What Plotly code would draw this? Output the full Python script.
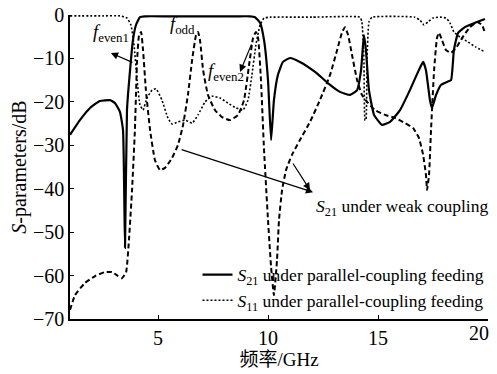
import plotly.graph_objects as go

# ---- data ----
# S21 under parallel-coupling feeding (solid)
f_s21p = [1.0, 1.45, 1.91, 2.36, 2.82, 3.05, 3.27, 3.41, 3.5, 3.59, 3.73, 3.86, 4.0, 4.18, 4.41,
          5.5, 7.0, 8.5, 9.18, 9.41, 9.64, 9.82, 10.0, 10.14, 10.27, 10.45, 10.68, 11.0, 11.45,
          12.14, 12.82, 13.27, 13.73, 14.05, 14.23, 14.36, 14.45, 14.59, 14.82, 15.18, 15.55,
          16.0, 16.45, 16.82, 17.05, 17.18, 17.36, 17.45, 17.64, 17.86, 18.14, 18.32, 18.45,
          18.64, 18.95, 19.41, 19.86]
db_s21p = [-27.6, -24.2, -21.4, -19.8, -19.6, -20.3, -22.3, -26.5, -53.6, -21.9, -12.7, -5.8, -2.3,
           -0.5, -0.3, -0.3, -0.3, -0.3, -0.3, -0.5, -1.8, -5.8, -15.0, -28.8, -19.6, -13.8, -10.8,
           -9.9, -10.8, -13.1, -16.1, -17.7, -18.4, -17.3, -12.7, -4.6, -8.0, -17.3, -23.0, -25.3,
           -24.6, -21.9, -17.3, -13.1, -10.8, -12.7, -19.6, -21.4, -18.4, -16.1, -15.4, -15.0,
           -8.1, -4.1, -2.8, -1.8, -0.9]

# S11 under parallel-coupling feeding (dotted)
f_s11p = [1.0, 2.5, 3.27, 3.59, 3.77, 3.91, 4.05, 4.18, 4.32, 4.5, 4.73, 4.91, 5.18, 5.45, 5.64,
          5.91, 6.23, 6.55, 6.82, 7.14, 7.45, 7.82, 8.18, 8.55, 8.86, 9.09, 9.27, 9.45, 9.64,
          9.82, 10.09, 12.0, 14.18, 14.27, 14.36, 14.41, 14.45, 14.5, 14.59, 14.73, 16.68,
          16.91, 17.09, 17.27, 17.5, 17.82, 18.09, 18.27, 18.45, 18.73, 19.09, 19.45, 19.86]
db_s11p = [-0.2, -0.2, -0.2, -0.7, -2.3, -6.9, -15.0, -20.7, -21.9, -19.1, -17.3, -17.0, -19.6,
           -23.7, -25.1, -24.6, -24.2, -24.9, -23.0, -20.0, -18.7, -19.1, -20.3, -21.4, -21.9,
           -19.6, -13.8, -6.9, -2.3, -0.7, -0.5, -0.5, -0.5, -1.6, -10.4, -24.2, -24.2, -10.4,
           -1.6, -0.5, -0.5, -1.2, -2.3, -1.6, -0.7, -0.5, -0.7, -1.8, -3.9, -5.1, -6.2, -7.4,
           -8.5]

# S21 under weak coupling (dashed)
f_s21w = [1.0, 1.23, 1.68, 2.14, 2.59, 2.91, 3.18, 3.36, 3.55, 3.68, 3.82, 3.95, 4.05, 4.14,
          4.23, 4.32, 4.45, 4.64, 4.86, 5.09, 5.32, 5.64, 5.91, 6.14, 6.36, 6.55, 6.73, 6.82,
          6.91, 7.05, 7.27, 7.59, 7.91, 8.27, 8.64, 8.91, 9.14, 9.32, 9.45, 9.55, 9.68, 9.82,
          10.0, 10.14, 10.27, 10.41, 10.5, 10.64, 10.82, 11.09, 11.45, 11.91, 12.36, 12.82,
          13.14, 13.36, 13.5, 13.64, 13.82, 14.05, 14.27, 14.55, 14.86, 15.32, 15.77, 16.23,
          16.59, 16.86, 17.05, 17.18, 17.23, 17.32, 17.41, 17.55, 17.68, 17.77, 17.91, 18.09,
          18.32, 18.55, 18.82, 19.18, 19.5, 19.73, 19.86]
db_s21w = [-67.9, -64.5, -61.7, -60.1, -59.2, -59.2, -60.1, -60.6, -59.2, -51.8, -40.3, -26.5,
           -10.4, -4.6, -3.9, -8.1, -17.3, -26.5, -33.4, -35.7, -35.2, -32.9, -29.9, -25.3,
           -18.4, -10.4, -4.6, -3.9, -5.8, -12.7, -18.4, -21.9, -23.5, -24.2, -23.0, -19.6,
           -11.5, -5.3, -3.9, -5.3, -15.0, -31.1, -47.2, -58.0, -64.5, -56.4, -47.2, -40.3,
           -35.7, -32.2, -28.8, -24.6, -19.6, -13.8, -8.1, -4.1, -2.8, -4.6, -9.2, -15.0,
           -18.4, -20.3, -21.9, -23.0, -23.7, -24.9, -26.0, -28.3, -32.2, -36.8, -40.3, -36.8,
           -26.5, -12.7, -5.3, -4.1, -5.8, -8.1, -8.7, -7.6, -5.3, -2.8, -1.6, -2.3, -4.1]

x_ticks = [5, 10, 15, 20]
x_ticktext = ["5", "10", "15", ""]      # "20" is drawn by the overlay axis (shifted to stay visible)
x_edge_tick = [20]
x_edge_text = ["20"]
y_ticks = [-70, -60, -50, -40, -30, -20, -10, 0]

SERIF = "Liberation Serif, Times New Roman, Times, serif"
CJK = "Liberation Serif, Times New Roman, Noto Sans CJK SC, serif"
FS = 18.5
FS_LONG = 17.5

fig = go.Figure()
fig.add_trace(go.Scatter(x=f_s21w, y=db_s21w, mode="lines", showlegend=False,
                         line=dict(color="black", width=2, dash="5px,3px", shape="spline", smoothing=0.4)))
fig.add_trace(go.Scatter(x=f_s11p, y=db_s11p, mode="lines", showlegend=False,
                         line=dict(color="black", width=1.6, dash="2px,2px", shape="spline", smoothing=0.4)))
fig.add_trace(go.Scatter(x=f_s21p, y=db_s21p, mode="lines",
                         name="<i>S</i><sub>21</sub> under parallel-coupling feeding",
                         line=dict(color="black", width=2.2, shape="spline", smoothing=0.4)))
fig.add_trace(go.Scatter(x=[None], y=[None], mode="lines",
                         name="<i>S</i><sub>11</sub> under parallel-coupling feeding",
                         line=dict(color="black", width=1.6, dash="2px,2px")))
# invisible helper so the overlay axis is drawn
fig.add_trace(go.Scatter(x=[None], y=[None], xaxis="x2", showlegend=False, hoverinfo="skip"))

anns = []
# text labels
anns.append(dict(x=2.85, y=-6.3, yshift=9, text="<i>f</i><sub>even1</sub>", showarrow=False))
anns.append(dict(x=6.1, y=-4.0, yshift=7, text="<i>f</i><sub>odd</sub>", showarrow=False))
anns.append(dict(x=8.1, y=-13.5, yshift=1, text="<i>f</i><sub>even2</sub>", showarrow=False))
anns.append(dict(x=12.1, y=-43.5, yshift=-4, text="<i>S</i><sub>21</sub> under weak coupling",
                 showarrow=False, xanchor="left",
                 font=dict(family=SERIF, size=FS_LONG, color="black")))
# arrows
arrow = dict(text="", showarrow=True, arrowhead=2, arrowsize=1.2, arrowwidth=1.2, arrowcolor="black")
anns.append(dict(x=2.86, y=-8.75, ax=23, ay=10, **arrow))
anns.append(dict(x=8.73, y=-13.1, ax=12, ay=-29, **arrow))
anns.append(dict(x=12.05, y=-40.8, ax=-133, ay=-43, **arrow))
anns.append(dict(x=11.91, y=-40.3, ax=-18, ay=-28, **arrow))
for a in anns:
    a.setdefault("font", dict(family=SERIF, size=FS, color="black"))

axis_common = dict(ticks="inside", ticklen=4, tickcolor="black", showline=True,
                   linecolor="black", linewidth=1.5, showgrid=False, zeroline=False,
                   automargin=False, ticklabeloverflow="allow",
                   tickfont=dict(family=SERIF, size=20, color="black"))

# the page adds an 8px body margin, so the figure is sized/margined to compensate
fig.update_layout(
    template="none",
    width=489, height=366,
    margin=dict(l=62, r=9, t=7, b=55, autoexpand=False),
    paper_bgcolor="white", plot_bgcolor="white",
    font=dict(family=SERIF, size=FS, color="black"),
    annotations=anns,
    legend=dict(x=0.305, y=0.205, xanchor="left", yanchor="top", bgcolor="rgba(0,0,0,0)",
                font=dict(family=SERIF, size=FS_LONG, color="black"), tracegroupgap=0,
                itemwidth=30),
    xaxis=dict(range=[1, 20], tickvals=x_ticks, ticktext=x_ticktext, **axis_common,
               title=dict(text="频率/GHz", standoff=4,
                          font=dict(family=CJK, size=19, color="black"))),
    xaxis2=dict(range=[1, 20], overlaying="x", side="bottom", tickvals=x_edge_tick,
                ticktext=x_edge_text, ticks="", showline=False, showgrid=False,
                zeroline=False, automargin=False, ticklabelshift=-9,
                tickfont=dict(family=SERIF, size=20, color="black")),
    yaxis=dict(range=[-70, 0], tickvals=y_ticks, **axis_common,
               title=dict(text="<i>S</i>-parameters/dB", standoff=4,
                          font=dict(family=SERIF, size=20, color="black"))),
)

fig.write_html("out.html")
